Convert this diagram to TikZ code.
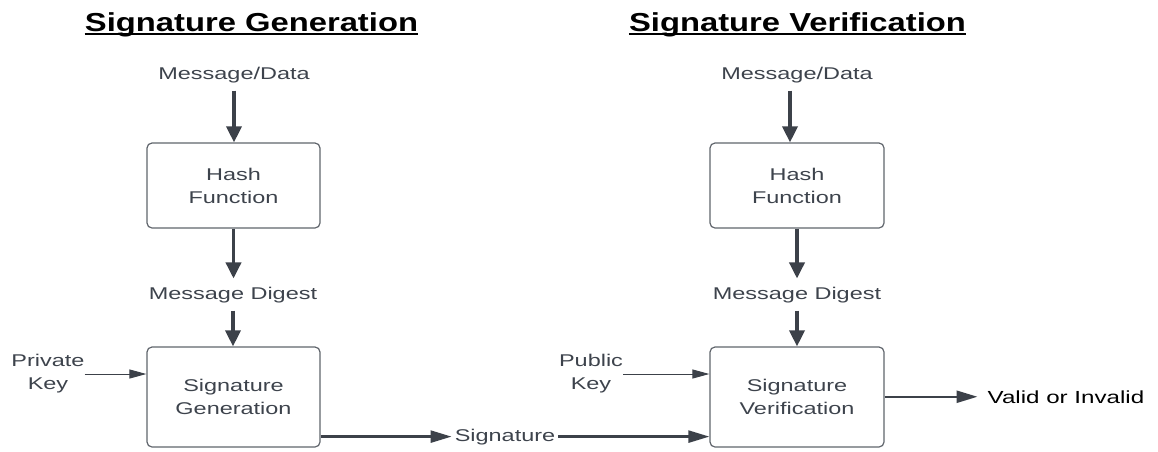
\documentclass[tikz,border=0pt]{standalone}
\usepackage{fontspec}
\setmainfont[FakeStretch=1.38]{Liberation Sans}
\newfontfamily\titlefont[FakeStretch=1.26]{Liberation Sans}
\usetikzlibrary{arrows.meta,calc}
\definecolor{txt}{HTML}{3D434C}
\definecolor{arr}{HTML}{3C4149}
\definecolor{bord}{HTML}{60656C}
\begin{document}
\begin{tikzpicture}[x=1pt,y=-1pt,
  lbl/.style={text=txt,font=\fontsize{17}{23}\selectfont,inner xsep=0pt,inner ysep=8pt,align=center},
  procbox/.style={draw=bord,line width=1.2pt,rounded corners=5pt,text=txt,
    font=\fontsize{17}{23}\selectfont,align=center,minimum width=173pt},
  ttl/.style={font=\titlefont\bfseries\fontsize{26}{30}\selectfont,inner sep=0pt,anchor=base},
  varr/.style={draw=arr,line width=3.5pt,-{Triangle[width=15pt,length=16pt]}},
  harr/.style={draw=arr,line width=2.5pt,-{Triangle[width=12pt,length=21pt]}},
  tarr/.style={draw=arr,line width=1pt,-{Triangle[width=9pt,length=17pt]}}
]
\useasboundingbox (0,0) rectangle (1158,451);
% titles
\node[ttl] (t1) at (251.5,31) {Signature Generation};
\node[ttl] (t2) at (797.5,31) {Signature Verification};
\draw[line width=2.5pt] ([yshift=-3pt]t1.base west) -- ([yshift=-3pt]t1.base east);
\draw[line width=2.5pt] ([yshift=-3pt]t2.base west) -- ([yshift=-3pt]t2.base east);
% left column
\node[lbl,anchor=base] (md1) at (234,79) {Message/Data};
\node[procbox,minimum height=85pt] (h1) at (233.5,185.5) {Hash\\Function};
\node[lbl,anchor=base] (dg1) at (233,299) {Message Digest};
\node[procbox,minimum height=100pt] (sg) at (233.5,397) {Signature\\Generation};
\node[lbl,inner ysep=0pt] (pk) at (48,374) {Private\\Key};
% right column
\node[lbl,anchor=base] (md2) at (797,79) {Message/Data};
\node[procbox,minimum width=174pt,minimum height=85pt] (h2) at (797,185.5) {Hash\\Function};
\node[lbl,anchor=base] (dg2) at (797,299) {Message Digest};
\node[procbox,minimum width=174pt,minimum height=100pt] (sv) at (797,397) {Signature\\Verification};
\node[lbl,inner ysep=0pt] (pub) at (591,374) {Public\\Key};
% signature and result
\node[lbl,anchor=base,inner xsep=3pt,inner ysep=0pt] (sig) at (505,441) {Signature};
\node[anchor=base,inner xsep=10pt,inner ysep=0pt,font=\fontsize{17.5}{21}\selectfont] (res) at (1066,403) {Valid or Invalid};
% connectors left
\draw[varr] (md1.south) -- (md1.south |- h1.north);
\draw[varr] (h1.south) -- (h1.south |- dg1.north);
\draw[varr] (dg1.south) -- (dg1.south |- sg.north);
\draw[tarr] (pk.east) -- (pk.east -| sg.west);
% connectors right
\coordinate (m2s) at ([xshift=-7pt]md2.south);
\draw[varr] (m2s) -- (m2s |- h2.north);
\draw[varr] (h2.south) -- (h2.south |- dg2.north);
\draw[varr] (dg2.south) -- (dg2.south |- sv.north);
\draw[tarr] (pub.east) -- (pub.east -| sv.west);
% signature path
\draw[harr] (sg.east |- sig.west) -- (sig.west);
\draw[harr] (sig.east) -- (sig.east -| sv.west);
\draw[harr] (sv.east |- res.west) -- (res.west);
\end{tikzpicture}
\end{document}
